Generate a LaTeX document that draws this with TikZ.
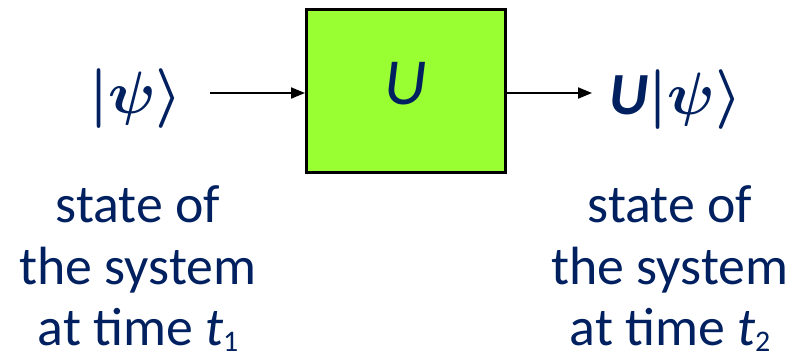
\RequirePackage{fix-cm}
\documentclass[tikz,border=0pt]{standalone}
\usetikzlibrary{arrows.meta}
\usepackage{amsmath}
\usepackage{fontspec}
\setmainfont{Carlito}
\definecolor{navy}{RGB}{0,32,96}
\definecolor{boxgreen}{RGB}{153,255,51}
\newcommand{\subidx}[1]{\raisebox{-0.12em}{\fontsize{30}{30}\selectfont #1}}
\begin{document}
\begin{tikzpicture}[x=1bp,y=-1bp,
  lbl/.style={text=navy,inner sep=0pt,font=\fontsize{54}{62}\selectfont,align=center},
  ket/.style={text=navy,inner sep=0pt,font=\fontsize{60}{64}\selectfont\boldmath},
  gate/.style={draw=black,line width=3bp,fill=boxgreen,minimum width=199bp,minimum height=163bp,inner sep=0pt},
  arr/.style={line width=2bp,-{Triangle[length=14bp,width=11bp]}}]
\useasboundingbox (0,0) rectangle (792,358);
\node[gate] (U) at (406,91) {};
\node[text=navy,inner sep=0pt,anchor=base,font=\fontsize{66}{66}\selectfont\itshape] (Ulab) at (406,104) {U};
\node[ket,anchor=base] (in) at (136,113) {$|\psi\rangle$};
\node[ket,anchor=base] (out) at (676,114) {{\bfseries\itshape U}$|\psi\rangle$};
\coordinate (a1) at (210,93);
\coordinate (a2) at (592,93);
\draw[arr] (a1) -- (U.west|-a1);
\draw[arr] (U.east|-a2) -- (a2);
\node[lbl,anchor=base] (l1) at (138,222) {state of};
\node[lbl,anchor=base] (l2) at (138,284) {the system};
\node[lbl,anchor=base] (l3) at (138,345) {at time {\itshape t}\subidx{1}};
\node[lbl,anchor=base] (r1) at (670,222) {state of};
\node[lbl,anchor=base] (r2) at (670,284) {the system};
\node[lbl,anchor=base] (r3) at (670,345) {at time {\itshape t}\subidx{2}};
\end{tikzpicture}
\end{document}
